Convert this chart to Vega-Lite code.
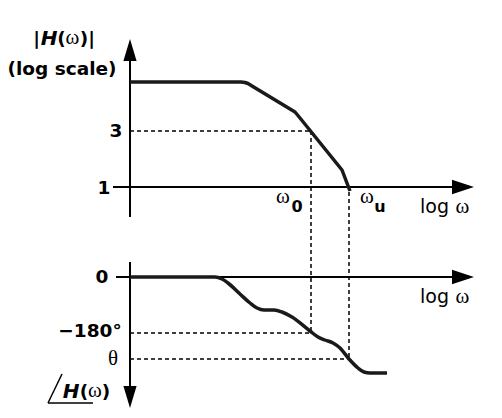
{
  "$schema": "https://vega.github.io/schema/vega-lite/v6.json",
  "width": 502,
  "height": 418,
  "padding": 0,
  "autosize": {"type": "fit", "contains": "padding"},
  "background": "white",
  "config": {"view": {"stroke": null}},
  "datasets": {
    "axes": [
      {"x": 130, "y": 52, "x2": 130, "y2": 217},
      {"x": 113, "y": 187, "x2": 456, "y2": 187},
      {"x": 116, "y": 277, "x2": 456, "y2": 277},
      {"x": 130, "y": 262, "x2": 130, "y2": 394}
    ],
    "dashes": [
      {"x": 130, "y": 131, "x2": 311, "y2": 131},
      {"x": 311, "y": 131, "x2": 311, "y2": 333},
      {"x": 130, "y": 333, "x2": 311, "y2": 333},
      {"x": 349, "y": 192, "x2": 349, "y2": 359},
      {"x": 130, "y": 359, "x2": 349, "y2": 359}
    ],
    "angle": [
      {"x": 48, "y": 403, "x2": 62, "y2": 374},
      {"x": 48, "y": 403, "x2": 93, "y2": 403}
    ],
    "mag": [
      {"i": 0, "x": 130, "y": 82},
      {"i": 1, "x": 241, "y": 82},
      {"i": 2, "x": 245, "y": 82.5},
      {"i": 3, "x": 248, "y": 83.5},
      {"i": 4, "x": 252, "y": 86},
      {"i": 5, "x": 295, "y": 112},
      {"i": 6, "x": 300, "y": 118},
      {"i": 7, "x": 342, "y": 170},
      {"i": 8, "x": 350, "y": 191}
    ],
    "phase": [
      {"i": 0, "x": 130, "y": 277},
      {"i": 1, "x": 215, "y": 277},
      {"i": 2, "x": 222, "y": 279},
      {"i": 3, "x": 228, "y": 283},
      {"i": 4, "x": 240, "y": 294},
      {"i": 5, "x": 250, "y": 303},
      {"i": 6, "x": 257, "y": 308},
      {"i": 7, "x": 264, "y": 310},
      {"i": 8, "x": 274, "y": 310},
      {"i": 9, "x": 282, "y": 312},
      {"i": 10, "x": 292, "y": 317},
      {"i": 11, "x": 310, "y": 331},
      {"i": 12, "x": 318, "y": 337},
      {"i": 13, "x": 325, "y": 340},
      {"i": 14, "x": 333, "y": 343},
      {"i": 15, "x": 340, "y": 348},
      {"i": 16, "x": 349, "y": 359},
      {"i": 17, "x": 358, "y": 368},
      {"i": 18, "x": 364, "y": 372},
      {"i": 19, "x": 370, "y": 373},
      {"i": 20, "x": 387, "y": 373}
    ],
    "arrows": [
      {"dir": "up", "x": 130, "y": 50},
      {"dir": "down", "x": 130, "y": 397},
      {"dir": "right", "x": 463, "y": 187},
      {"dir": "right", "x": 463, "y": 277}
    ],
    "sans": [
      {"t": "(log scale)", "x": 62, "y": 75},
      {"t": "3", "x": 116, "y": 137},
      {"t": "1", "x": 104, "y": 194},
      {"t": "0", "x": 102, "y": 283},
      {"t": "\u2212180\u00b0", "x": 90, "y": 337},
      {"t": "|", "x": 36.5, "y": 45},
      {"t": "(", "x": 61.5, "y": 45},
      {"t": ")", "x": 84, "y": 45},
      {"t": "|", "x": 91.5, "y": 45},
      {"t": "(", "x": 84, "y": 398},
      {"t": ")", "x": 106, "y": 398}
    ],
    "italic": [
      {"t": "H", "x": 49, "y": 45},
      {"t": "H", "x": 71, "y": 398}
    ],
    "serif": [
      {"t": "\u03c9", "x": 72.5, "y": 44},
      {"t": "\u03c9", "x": 95, "y": 397},
      {"t": "\u03b8", "x": 113, "y": 365},
      {"t": "\u03c9", "x": 283, "y": 203},
      {"t": "\u03c9", "x": 367, "y": 203},
      {"t": "\u03c9", "x": 462.5, "y": 213},
      {"t": "\u03c9", "x": 462.5, "y": 303}
    ],
    "plain": [
      {"t": "log", "x": 434.5, "y": 213},
      {"t": "log", "x": 434.5, "y": 303}
    ],
    "subs": [
      {"t": "0", "x": 297, "y": 212},
      {"t": "u", "x": 380, "y": 212}
    ]
  },
  "layer": [
    {
      "data": {"name": "axes"},
      "mark": {"type": "rule", "color": "black", "strokeWidth": 2},
      "encoding": {
        "x": {"field": "x", "type": "quantitative", "scale": {"domain": [0, 502], "nice": false, "zero": false}, "axis": null},
        "y": {"field": "y", "type": "quantitative", "scale": {"domain": [0, 418], "nice": false, "zero": false, "reverse": true}, "axis": null},
        "x2": {"field": "x2"},
        "y2": {"field": "y2"}
      }
    },
    {
      "data": {"name": "dashes"},
      "mark": {"type": "rule", "color": "black", "strokeWidth": 1.5, "strokeDash": [4, 3]},
      "encoding": {
        "x": {"field": "x", "type": "quantitative"},
        "y": {"field": "y", "type": "quantitative"},
        "x2": {"field": "x2"},
        "y2": {"field": "y2"}
      }
    },
    {
      "data": {"name": "angle"},
      "mark": {"type": "rule", "color": "black", "strokeWidth": 1.5},
      "encoding": {
        "x": {"field": "x", "type": "quantitative"},
        "y": {"field": "y", "type": "quantitative"},
        "x2": {"field": "x2"},
        "y2": {"field": "y2"}
      }
    },
    {
      "data": {"name": "mag"},
      "mark": {"type": "line", "color": "#1a1a1a", "strokeWidth": 3.5, "interpolate": "linear", "strokeCap": "butt", "strokeJoin": "round"},
      "encoding": {
        "x": {"field": "x", "type": "quantitative"},
        "y": {"field": "y", "type": "quantitative"},
        "order": {"field": "i", "type": "quantitative"}
      }
    },
    {
      "data": {"name": "phase"},
      "mark": {"type": "line", "color": "#1a1a1a", "strokeWidth": 3.5, "interpolate": "monotone", "strokeCap": "butt", "strokeJoin": "round"},
      "encoding": {
        "x": {"field": "x", "type": "quantitative"},
        "y": {"field": "y", "type": "quantitative"},
        "order": {"field": "i", "type": "quantitative"}
      }
    },
    {
      "data": {"name": "arrows"},
      "transform": [{"filter": "datum.dir === 'right'"}],
      "mark": {"type": "point", "filled": true, "color": "black", "opacity": 1, "size": 484, "shape": "M1,0L-1,-0.65L-1,0.65Z"},
      "encoding": {
        "x": {"field": "x", "type": "quantitative"},
        "y": {"field": "y", "type": "quantitative"}
      }
    },
    {
      "data": {"name": "arrows"},
      "transform": [{"filter": "datum.dir === 'up'"}],
      "mark": {"type": "point", "filled": true, "color": "black", "opacity": 1, "size": 484, "shape": "M0,-1L-0.6,1L0.6,1Z"},
      "encoding": {
        "x": {"field": "x", "type": "quantitative"},
        "y": {"field": "y", "type": "quantitative"}
      }
    },
    {
      "data": {"name": "arrows"},
      "transform": [{"filter": "datum.dir === 'down'"}],
      "mark": {"type": "point", "filled": true, "color": "black", "opacity": 1, "size": 484, "shape": "M0,1L-0.6,-1L0.6,-1Z"},
      "encoding": {
        "x": {"field": "x", "type": "quantitative"},
        "y": {"field": "y", "type": "quantitative"}
      }
    },
    {
      "data": {"name": "sans"},
      "mark": {"type": "text", "font": "DejaVu Sans", "fontWeight": "bold", "fontSize": 18.5, "align": "center", "baseline": "alphabetic", "color": "black"},
      "encoding": {
        "x": {"field": "x", "type": "quantitative"},
        "y": {"field": "y", "type": "quantitative"},
        "text": {"field": "t"}
      }
    },
    {
      "data": {"name": "italic"},
      "mark": {"type": "text", "font": "DejaVu Sans", "fontWeight": "bold", "fontStyle": "italic", "fontSize": 20, "align": "center", "baseline": "alphabetic", "color": "black"},
      "encoding": {
        "x": {"field": "x", "type": "quantitative"},
        "y": {"field": "y", "type": "quantitative"},
        "text": {"field": "t"}
      }
    },
    {
      "data": {"name": "serif"},
      "mark": {"type": "text", "font": "Liberation Serif", "fontSize": 21, "align": "center", "baseline": "alphabetic", "color": "black"},
      "encoding": {
        "x": {"field": "x", "type": "quantitative"},
        "y": {"field": "y", "type": "quantitative"},
        "text": {"field": "t"}
      }
    },
    {
      "data": {"name": "plain"},
      "mark": {"type": "text", "font": "DejaVu Sans", "fontSize": 19, "align": "center", "baseline": "alphabetic", "color": "black"},
      "encoding": {
        "x": {"field": "x", "type": "quantitative"},
        "y": {"field": "y", "type": "quantitative"},
        "text": {"field": "t"}
      }
    },
    {
      "data": {"name": "subs"},
      "mark": {"type": "text", "font": "DejaVu Sans", "fontWeight": "bold", "fontSize": 16, "align": "center", "baseline": "alphabetic", "color": "black"},
      "encoding": {
        "x": {"field": "x", "type": "quantitative"},
        "y": {"field": "y", "type": "quantitative"},
        "text": {"field": "t"}
      }
    }
  ]
}
